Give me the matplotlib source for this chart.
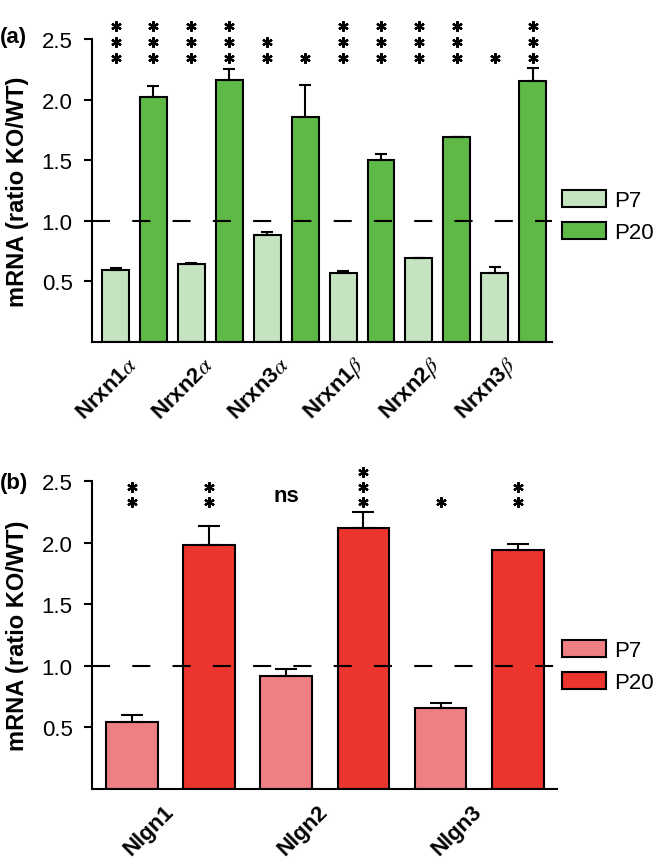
import numpy as np
import matplotlib
matplotlib.use("Agg")
import matplotlib.pyplot as plt
from matplotlib.patches import Patch

plt.rcParams['font.family'] = ['Liberation Sans', 'DejaVu Sans']
plt.rcParams['mathtext.fontset'] = 'stix'
plt.rcParams['lines.scale_dashes'] = False

# panel (a): neurexins
nrxn_genes = ['Nrxn1$\\alpha$', 'Nrxn2$\\alpha$', 'Nrxn3$\\alpha$',
              'Nrxn1$\\beta$', 'Nrxn2$\\beta$', 'Nrxn3$\\beta$']
nrxn_p7 = [0.59, 0.64, 0.88, 0.57, 0.69, 0.57]
nrxn_p7_err = [0.02, 0.01, 0.025, 0.015, 0.005, 0.05]
nrxn_p20 = [2.02, 2.165, 1.86, 1.50, 1.69, 2.15]
nrxn_p20_err = [0.09, 0.085, 0.26, 0.05, 0.005, 0.11]
nrxn_p7_sig = [3, 3, 2, 3, 3, 1]
nrxn_p20_sig = [3, 3, 1, 3, 3, 3]

# panel (b): neuroligins
nlgn_genes = ['Nlgn1', 'Nlgn2', 'Nlgn3']
nlgn_p7 = [0.54, 0.915, 0.66]
nlgn_p7_err = [0.06, 0.06, 0.04]
nlgn_p20 = [1.98, 2.12, 1.94]
nlgn_p20_err = [0.155, 0.125, 0.045]
nlgn_p7_sig = [2, 'ns', 1]
nlgn_p20_sig = [2, 3, 2]

W, H = 656, 862
fig = plt.figure(figsize=(W / 100, H / 100), dpi=100)


def draw_panel(ax, genes, p7, p7err, p20, p20err, sig7, sig20, c7, c20,
               width, cap, star0, dstar, xlim, legy):
    n = len(genes)
    x7 = np.arange(n) * 2
    x20 = x7 + 1
    ax.bar(x7, p7, width, color=c7, edgecolor='black', linewidth=1.5, zorder=2)
    ax.bar(x20, p20, width, color=c20, edgecolor='black', linewidth=1.5, zorder=2)
    ax.errorbar(x7, p7, yerr=[np.zeros(n), p7err], fmt='none', ecolor='black',
                elinewidth=1.5, capsize=cap, capthick=1.5, zorder=3)
    ax.errorbar(x20, p20, yerr=[np.zeros(n), p20err], fmt='none', ecolor='black',
                elinewidth=1.5, capsize=cap, capthick=1.5, zorder=3)
    ax.axhline(1.0, color='black', lw=1.5, dashes=(13, 16), zorder=4)

    for xs, sigs in ((x7, sig7), (x20, sig20)):
        for x, s in zip(xs, sigs):
            if s == 'ns':
                ax.text(x, star0 + 0.05, 'ns', ha='center', va='center',
                        fontsize=16, fontweight='bold', clip_on=False)
            else:
                ys = star0 + dstar * np.arange(s)
                ax.plot([x] * s, ys, ls='none', marker=(6, 2, 0), ms=7.5,
                        mew=1.6, color='black', clip_on=False)

    ax.set_xlim(*xlim)
    ax.set_ylim(0, 2.5)
    ax.set_yticks([0.5, 1.0, 1.5, 2.0, 2.5])
    ax.set_yticklabels(['0.5', '1.0', '1.5', '2.0', '2.5'])
    ax.set_xticks(x7 + 0.5)
    ax.set_xticklabels(genes, rotation=45, ha='right', va='center',
                       rotation_mode='anchor', fontweight='bold', fontsize=16)
    ax.tick_params(axis='x', length=0, pad=14)
    ax.tick_params(axis='y', direction='out', length=6, width=1.5, labelsize=16, pad=8)
    for sp in ('top', 'right'):
        ax.spines[sp].set_visible(False)
    for sp in ('left', 'bottom'):
        ax.spines[sp].set_linewidth(1.5)
    ax.set_ylabel('mRNA (ratio KO/WT)', fontsize=17, fontweight='bold')
    ax.yaxis.label.set_va('center')
    ax.yaxis.set_label_coords(-75 / (ax.get_position().width * W), 0.5)

    handles = [Patch(facecolor=c7, edgecolor='black', linewidth=1.5, label='P7'),
               Patch(facecolor=c20, edgecolor='black', linewidth=1.5, label='P20')]
    ax.legend(handles=handles, loc='center left', bbox_to_anchor=(562 / W, legy),
              bbox_transform=fig.transFigure, frameon=False, fontsize=16,
              handlelength=2.0, handleheight=0.8, handletextpad=0.35,
              labelspacing=0.45, borderpad=0, borderaxespad=0)


ax1 = fig.add_axes([92 / W, 519 / H, 460 / W, 303 / H])
draw_panel(ax1, nrxn_genes, nrxn_p7, nrxn_p7_err, nrxn_p20, nrxn_p20_err,
           nrxn_p7_sig, nrxn_p20_sig, '#c5e3c0', '#5fb946',
           0.71, 4.5, 2.345, 0.133, (-0.62, 11.51), 1 - 217.5 / H)

ax2 = fig.add_axes([92 / W, 72 / H, 465 / W, 308 / H])
draw_panel(ax2, nlgn_genes, nlgn_p7, nlgn_p7_err, nlgn_p20, nlgn_p20_err,
           nlgn_p7_sig, nlgn_p20_sig, '#f07f83', '#eb352e',
           0.67, 8, 2.33, 0.122, (-0.52, 5.51), 1 - 667.5 / H)

fig.text(0.0, 1 - 38 / H, '(a)', fontsize=16, fontweight='bold', va='center')
fig.text(0.0, 1 - 484 / H, '(b)', fontsize=16, fontweight='bold', va='center')

fig.savefig('out.png', dpi=100)
